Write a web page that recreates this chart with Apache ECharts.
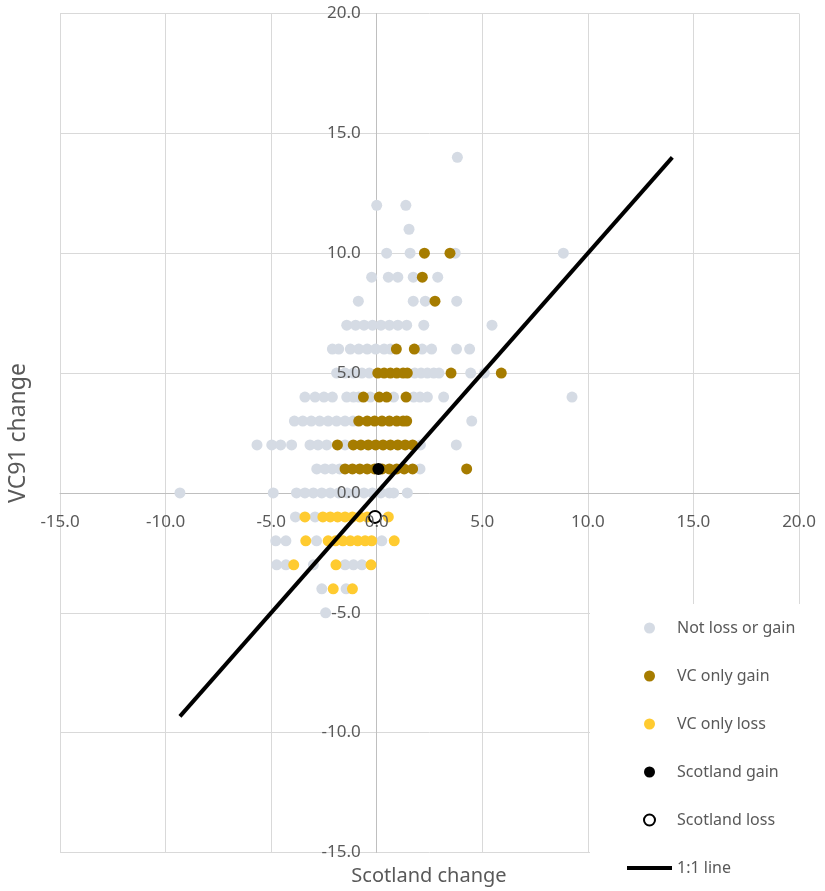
<!DOCTYPE html>
<html>
<head>
<meta charset="utf-8">
<script src="https://cdn.jsdelivr.net/npm/echarts@6/dist/echarts.min.js"></script>
<style>
html,body{margin:0;padding:0;background:#fff;}
#chart{width:825px;height:891px;}
</style>
</head>
<body>
<div id="chart"></div>
<script>
// ---- Data (Scotland change, VC91 change) ----
const notLossOrGain = [
  [3.82,14],
  [0.0,12],[1.38,12],
  [1.53,11],
  [0.47,10],[1.58,10],[3.72,10],[8.84,10],
  [-0.24,9],[0.55,9],[1.0,9],[1.73,9],[2.89,9],
  [-0.87,8],[1.73,8],[2.3,8],[3.79,8],
  [-1.42,7],[-1.0,7],[-0.6,7],[-0.2,7],[0.2,7],[0.6,7],[1.0,7],[1.42,7],[2.23,7],[5.46,7],
  [-2.1,6],[-1.8,6],[-1.25,6],[-0.85,6],[-0.45,6],[-0.05,6],[0.35,6],[0.65,6],[2.15,6],[2.6,6],[3.78,6],[4.4,6],
  [-1.9,5],[-1.5,5],[-1.1,5],[-0.7,5],[-0.35,5],[1.8,5],[2.1,5],[2.4,5],[2.7,5],[2.95,5],[4.45,5],[5.1,5],
  [-3.4,4],[-2.92,4],[-2.5,4],[-2.1,4],[-1.42,4],[-1.1,4],[-0.85,4],[-0.3,4],[0.8,4],[1.75,4],[2.05,4],[2.4,4],[3.17,4],[9.25,4],
  [-3.9,3],[-3.5,3],[-3.1,3],[-2.7,3],[-2.3,3],[-1.9,3],[-1.5,3],[-1.12,3],[4.5,3],
  [-5.67,2],[-4.97,2],[-4.55,2],[-4.03,2],[-3.16,2],[-2.78,2],[-2.37,2],[-1.5,2],[2.07,2],[3.77,2],
  [-2.84,1],[-2.45,1],[-2.1,1],[-1.75,1],[2.05,1],
  [-9.32,0],[-4.9,0],[-3.8,0],[-3.4,0],[-3.0,0],[-2.6,0],[-2.2,0],[-1.8,0],[-1.4,0],[-1.0,0],[-0.6,0],[-0.2,0],[0.2,0],[0.6,0],[0.8,0],[1.45,0],
  [-3.85,-1],[-2.92,-1],
  [-4.78,-2],[-4.3,-2],[-2.85,-2],[0.24,-2],
  [-4.74,-3],[-4.3,-3],[-3.0,-3],[-1.5,-3],[-1.1,-3],[-0.7,-3],
  [-2.6,-4],[-1.45,-4],
  [-2.42,-5]
];
const vcOnlyGain = [
  [2.26,10],[3.47,10],
  [2.16,9],
  [2.76,8],
  [0.93,6],[1.78,6],
  [0.05,5],[0.35,5],[0.65,5],[0.95,5],[1.25,5],[1.45,5],[3.52,5],[5.9,5],
  [-0.63,4],[0.12,4],[0.47,4],[1.39,4],
  [-0.85,3],[-0.45,3],[-0.1,3],[0.25,3],[0.6,3],[0.95,3],[1.25,3],[1.42,3],
  [-1.86,2],[-1.11,2],[-0.75,2],[-0.4,2],[-0.05,2],[0.3,2],[0.65,2],[1.0,2],[1.35,2],[1.7,2],
  [-1.5,1],[-1.15,1],[-0.8,1],[-0.45,1],[-0.1,1],[0.25,1],[0.6,1],[0.95,1],[1.3,1],[1.7,1],[4.26,1]
];
const vcOnlyLoss = [
  [-3.4,-1],[-2.55,-1],[-2.2,-1],[-1.85,-1],[-1.5,-1],[-1.15,-1],[-0.8,-1],[-0.45,-1],[-0.15,-1],[0.55,-1],
  [-3.36,-2],[-2.3,-2],[-1.95,-2],[-1.6,-2],[-1.25,-2],[-0.9,-2],[-0.55,-2],[-0.24,-2],[0.83,-2],
  [-3.93,-3],[-1.93,-3],[-0.27,-3],
  [-2.06,-4],[-1.15,-4]
];
const scotlandGain = [[0.08,1]];
const scotlandLoss = [[-0.08,-1]];
const oneToOneEnds = [-9.32, 14];
const axisMin = -15, axisMax = 20, axisStep = 5;
const legendNames = ['Not loss or gain','VC only gain','VC only loss','Scotland gain','Scotland loss','1:1 line'];

const chart = echarts.init(document.getElementById('chart'));
const FONT = 'Noto Sans';
const TXT = '#595959';
const fmt = v => v.toFixed(1);

const baseAxis = { type: 'value', min: axisMin, max: axisMax, interval: axisStep, gridIndex: 0 };
// axis 0: labels only, drawn above the marks; axis 1: grid + axis line, drawn beneath
const labelAxis = (margin) => Object.assign({}, baseAxis, {
  z: 10,
  axisLine: { show: false, onZero: false },
  axisTick: { show: false },
  splitLine: { show: false },
  axisLabel: { formatter: fmt, color: TXT, fontSize: 17, fontFamily: FONT, margin: margin }
});
const gridAxis = () => Object.assign({}, baseAxis, {
  z: 0,
  axisLine: { show: true, onZero: false, lineStyle: { color: '#bfbfbf', width: 1 } },
  axisTick: { show: false },
  axisLabel: { show: false },
  splitLine: { show: true, lineStyle: { color: '#d9d9d9', width: 1 } }
});

const option = {
  backgroundColor: '#fff',
  animation: false,
  textStyle: { fontFamily: FONT },
  grid: { left: 60, right: 26, top: 13.5, bottom: 38.5, containLabel: false, outerBoundsMode: 'none' },
  xAxis: [ Object.assign(labelAxis(21), { position: 'bottom' }), Object.assign(gridAxis(), { position: 'top' }) ],
  yAxis: [ Object.assign(labelAxis(16), { position: 'left' }), Object.assign(gridAxis(), { position: 'right' }) ],
  legend: {
    data: legendNames.map(n => n === '1:1 line'
      ? { name: n, itemStyle: { opacity: 0 }, lineStyle: { width: 4, color: '#000' } } : n),
    orient: 'vertical',
    left: 625, top: 620,
    padding: 0,
    itemWidth: 45, itemHeight: 11, itemGap: 32,
    textStyle: { color: TXT, fontSize: 16, fontFamily: FONT },
    z: 5
  },
  graphic: [
    { type: 'rect', z: 1, shape: { x: 590, y: 604, width: 235, height: 287 }, style: { fill: '#fff' } },
    { type: 'text', z: 1, x: 429, y: 876, style: { text: 'Scotland change', fill: TXT, font: '20px "Noto Sans"', align: 'center', verticalAlign: 'middle' } },
    { type: 'text', z: 1, x: 18, y: 433, rotation: Math.PI / 2, style: { text: 'VC91 change', fill: TXT, font: '23px "Noto Sans"', align: 'center', verticalAlign: 'middle' } }
  ],
  series: [
    { name: 'Not loss or gain', type: 'scatter', data: notLossOrGain, symbolSize: 11, itemStyle: { color: '#d5dbe4', opacity: 1 }, z: 2 },
    { name: 'VC only gain', type: 'scatter', data: vcOnlyGain, symbolSize: 11, itemStyle: { color: '#a67c00', opacity: 1 }, z: 3 },
    { name: 'VC only loss', type: 'scatter', data: vcOnlyLoss, symbolSize: 11, itemStyle: { color: '#ffcb30', opacity: 1 }, z: 3 },
    { name: '1:1 line', type: 'line', data: oneToOneEnds.map(v => [v, v]), symbol: 'none', showSymbol: false,
      lineStyle: { color: '#000', width: 4 }, itemStyle: { color: '#000' }, z: 4 },
    { name: 'Scotland gain', type: 'scatter', data: scotlandGain, symbolSize: 12, itemStyle: { color: '#000', opacity: 1 }, z: 5 },
    { name: 'Scotland loss', type: 'scatter', data: scotlandLoss, symbol: 'emptyCircle', symbolSize: 12,
      itemStyle: { color: '#000', borderColor: '#000', borderWidth: 2, opacity: 1 }, z: 5 }
  ]
};
chart.setOption(option);

// Move each axis to the zero of the other axis, using the library's own scales
const xZeroPx = chart.convertToPixel({ xAxisIndex: 0 }, 0);
const xMinPx = chart.convertToPixel({ xAxisIndex: 0 }, axisMin);
const xMaxPx = chart.convertToPixel({ xAxisIndex: 0 }, axisMax);
const yZeroPx = chart.convertToPixel({ yAxisIndex: 0 }, 0);
const yMinPx = chart.convertToPixel({ yAxisIndex: 0 }, axisMin);
const yMaxPx = chart.convertToPixel({ yAxisIndex: 0 }, axisMax);
chart.setOption({
  xAxis: [ { offset: yZeroPx - yMinPx }, { offset: yMaxPx - yZeroPx } ],
  yAxis: [ { offset: xMinPx - xZeroPx }, { offset: xZeroPx - xMaxPx } ]
});
</script>
</body>
</html>
